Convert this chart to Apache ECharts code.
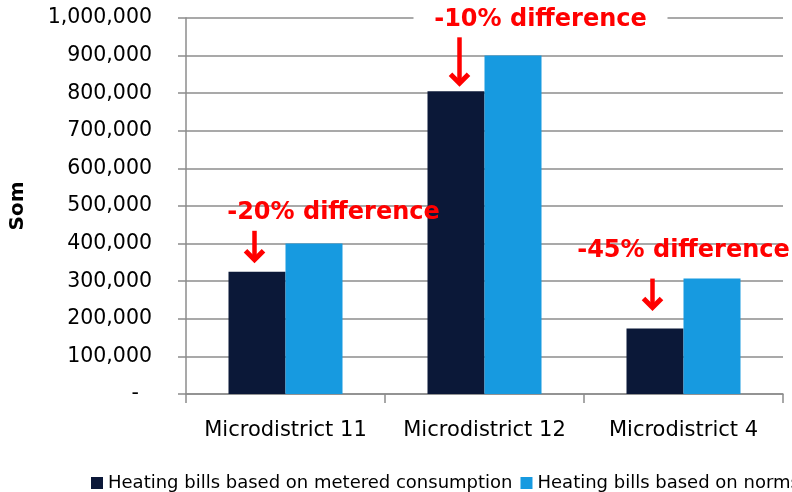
<!DOCTYPE html>
<html>
<head>
<meta charset="utf-8">
<title>Heating bills</title>
<script src="https://cdn.jsdelivr.net/npm/echarts@6/dist/echarts.min.js"></script>
<style>
html, body { margin: 0; padding: 0; background: #fff; }
#chartDom { width: 792px; height: 492px; }
</style>
</head>
<body>
<div id="chartDom"></div>
<script type="text/javascript">
	// data
	var categories = ['Microdistrict 11', 'Microdistrict 12', 'Microdistrict 4'];
	var meteredBills = [325000, 805000, 174000];
	var normBills = [400000, 900000, 307000];
	var seriesNames = ['Heating bills based on metered consumption', 'Heating bills based on norms'];
	var yMin = 0, yMax = 1000000, yStep = 100000;
	var diffLabels = ['-20% difference', '-10% difference', '-45% difference'];

	// annotation layout (pixels): arrow x offset from category centre, gap above dark bar, arrow length,
	// text offset from category centre and text value height
	var arrowDx = [-31, -25, -31];
	var arrowGap = [10, 6, 19];
	var arrowLen = [31, 48, 31];
	var textDx = [48, 56, 0];
	var textVal = [482000, 995000, 380000];

	var FONT = '"DejaVu Sans", "Noto Sans", sans-serif';

	function fmtNum(v) {
		if (v === 0) return '-  ';
		return String(v).replace(/\B(?=(\d{3})+(?!\d))/g, ',');
	}

	var myChart = echarts.init(document.getElementById('chartDom'));
	var option = {
		animation : false,
		backgroundColor : '#fff',
		color : [ '#0b1838', '#179ae0' ],
		grid : {
			left : 183,
			right : 9,
			top : 18,
			bottom : 98
		},
		legend : {
			data : seriesNames,
			left : 86,
			top : 469,
			width : 1200,
			icon : 'rect',
			itemWidth : 12,
			itemHeight : 12,
			itemGap : 8,
			textStyle : {
				fontFamily : FONT,
				fontSize : 18,
				color : '#000'
			}
		},
		xAxis : [ {
			type : 'category',
			data : categories,
			axisLine : { lineStyle : { color : '#8c8c8c', width : 1.5 } },
			axisTick : { show : true, length : 9, lineStyle : { color : '#8c8c8c', width : 1.5 } },
			axisLabel : {
				interval : 0,
				margin : 26,
				fontFamily : FONT,
				fontSize : 21,
				color : '#000'
			}
		} ],
		yAxis : [ {
			type : 'value',
			min : yMin,
			max : yMax,
			interval : yStep,
			name : 'Som',
			nameLocation : 'middle',
			nameGap : 158,
			nameRotate : 90,
			nameTextStyle : {
				fontFamily : FONT,
				fontSize : 20,
				fontWeight : 'bold',
				color : '#000'
			},
			axisLine : { show : true, lineStyle : { color : '#8c8c8c', width : 1.5 } },
			axisTick : { show : true, length : 8, lineStyle : { color : '#8c8c8c', width : 1.5 } },
			splitLine : { lineStyle : { color : '#8c8c8c', width : 1.5 } },
			axisLabel : {
				margin : 34,
				fontFamily : FONT,
				fontSize : 20.5,
				color : '#000',
				formatter : fmtNum
			}
		} ],
		series : [ {
			name : seriesNames[0],
			type : 'bar',
			barWidth : 57,
			barGap : '0%',
			data : meteredBills
		}, {
			name : seriesNames[1],
			type : 'bar',
			barWidth : 57,
			barGap : '0%',
			data : normBills
		} ]
	};
	myChart.setOption(option);

	// red "difference" notes with arrows, placed through the chart's own scales
	var graphics = [];
	for (var i = 0; i < categories.length; i++) {
		var barTop = myChart.convertToPixel({ gridIndex : 0 }, [ i, meteredBills[i] ]);
		var ax = barTop[0] + arrowDx[i];
		var tip = barTop[1] - arrowGap[i];
		graphics.push({
			type : 'line',
			z : 100,
			shape : { x1 : ax, y1 : tip - arrowLen[i], x2 : ax, y2 : tip - 3 },
			style : { stroke : '#ff0000', lineWidth : 4.5 }
		});
		graphics.push({
			type : 'polyline',
			z : 100,
			shape : { points : [ [ ax - 9, tip - 11 ], [ ax, tip - 2 ], [ ax + 9, tip - 11 ] ] },
			style : { stroke : '#ff0000', fill : null, lineWidth : 5, lineJoin : 'miter' }
		});
		var tp = myChart.convertToPixel({ gridIndex : 0 }, [ i, textVal[i] ]);
		var tx = tp[0] + textDx[i];
		if (i === 1) {
			graphics.push({
				type : 'rect',
				z : 99,
				shape : { x : tx - 127, y : tp[1] - 13, width : 254, height : 26 },
				style : { fill : '#fff' }
			});
		}
		graphics.push({
			type : 'text',
			z : 101,
			style : {
				text : diffLabels[i],
				x : tx,
				y : tp[1],
				align : 'center',
				verticalAlign : 'middle',
				fill : '#ff0000',
				font : 'bold 24px ' + FONT
			}
		});
	}
	myChart.setOption({ graphic : graphics });
</script>
</body>
</html>
